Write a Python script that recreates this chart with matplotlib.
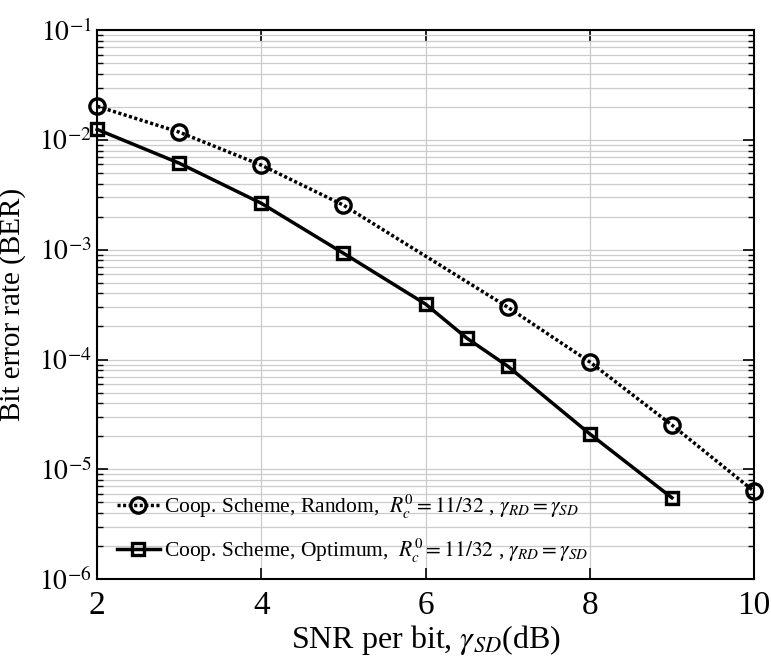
import matplotlib
matplotlib.use('Agg')
import matplotlib.pyplot as plt
import numpy as np

plt.rcParams['font.family'] = ['Liberation Serif', 'DejaVu Serif']
plt.rcParams['mathtext.fontset'] = 'stix'

snr_random = [2, 3, 4, 5, 7, 8, 9, 10]
ber_random = [2.03e-2, 1.18e-2, 5.9e-3, 2.55e-3, 3.0e-4, 9.5e-5, 2.53e-5, 6.3e-6]

snr_opt = [2, 3, 4, 5, 6, 6.5, 7, 8, 9]
ber_opt = [1.25e-2, 6.15e-3, 2.65e-3, 9.3e-4, 3.2e-4, 1.57e-4, 8.7e-5, 2.1e-5, 5.5e-6]

label_random = r'Coop. Scheme, Random,  $R_c^0 = 11/32$ , $\gamma_{RD} = \gamma_{SD}$'
label_opt = r'Coop. Scheme, Optimum,  $R_c^0 = 11/32$ , $\gamma_{RD} = \gamma_{SD}$'

fig = plt.figure(figsize=(7.71, 6.58), dpi=100)
ax = fig.add_axes([0.126, 0.12, 0.852, 0.834])

ax.semilogy(snr_random, ber_random, linestyle=(0, (0.9, 0.7)), color='black', lw=2.5,
            marker='o', ms=11, mfc='none', mew=2.4, label=label_random, clip_on=False)
ax.semilogy(snr_opt, ber_opt, '-', color='black', lw=2.5,
            marker='s', ms=8.5, mfc='none', mew=2.4, label=label_opt, clip_on=False)

ax.set_xlim(2, 10)
ax.set_ylim(1e-6, 1e-1)
ax.set_xticks([2, 4, 6, 8, 10])
ax.set_yticks([1e-6, 1e-5, 1e-4, 1e-3, 1e-2, 1e-1])
ax.set_yticklabels([r'$10^{-%d}$' % k for k in [6, 5, 4, 3, 2, 1]])

ax.grid(True, which='major', color='#cccccc', lw=0.9)
ax.grid(True, which='minor', axis='y', color='#cccccc', lw=0.9)
ax.set_axisbelow(True)

ax.tick_params(which='both', direction='in', top=True, right=True)
ax.tick_params(which='major', length=8, width=1.2)
ax.tick_params(which='minor', length=4, width=1.0)
ax.tick_params(axis='x', pad=8, labelsize=24)
ax.tick_params(axis='y', pad=4, labelsize=20)
for s in ax.spines.values():
    s.set_linewidth(1.5)

ax.set_xlabel(r'SNR per bit, $\gamma_{SD}$(dB)', fontsize=23, labelpad=2)
ax.set_ylabel('Bit error rate (BER)', fontsize=21)
ax.yaxis.set_label_coords(-0.108, 0.5)

ax.legend(loc='lower left', bbox_to_anchor=(0.0, -0.01), frameon=False,
          fontsize=15.5, handlelength=2.0, handletextpad=0.2, labelspacing=0.75)

fig.savefig('out.png', dpi=100)
